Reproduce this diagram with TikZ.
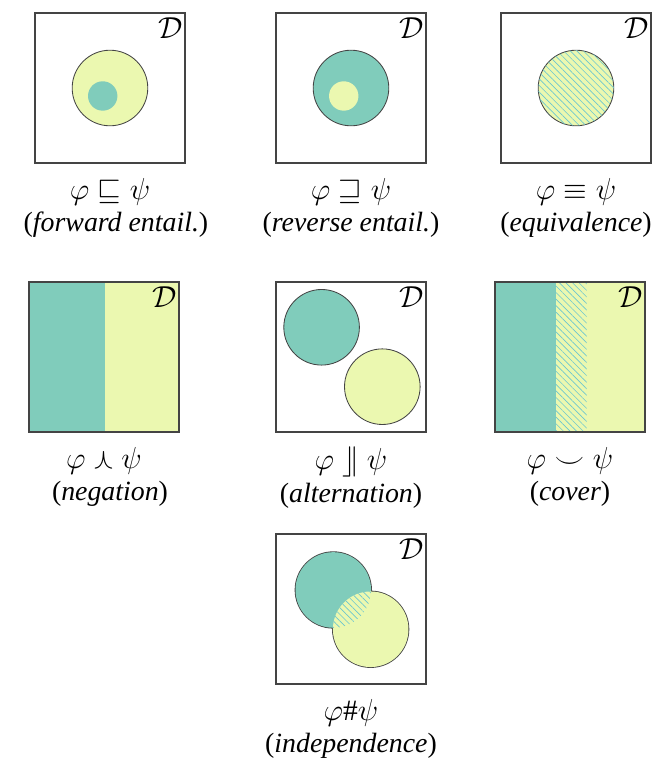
\documentclass[tikz,border=0pt]{standalone}
\usepackage{amssymb}
\usepackage{fontspec}
\setmainfont{Liberation Serif}
\usepackage{tikz}
\usepackage{xcolor}
\definecolor{vizPhi}{HTML}{80CCBB}
\definecolor{vizPsi}{HTML}{EBF8B0}
\definecolor{vizHatch}{HTML}{6CC6D0}
\definecolor{vizEdge}{HTML}{444444}
\usetikzlibrary{patterns.meta}
\newcommand{\relbig}[1]{{\fontsize{14}{16}\selectfont$#1$}}

\begin{document}
\begin{tikzpicture}[
  dombox/.style={draw=vizEdge, line width=0.6pt},
  setedge/.style={draw=vizEdge, line width=0.4pt},
  hatched/.style={pattern={Lines[angle=-45, distance=2.2pt, line width=0.3pt]}, pattern color=vizHatch},
  dlabel/.style={anchor=north east, inner xsep=1pt, inner ysep=2.2pt, font=\fontsize{14.4}{16}\selectfont},
  capbox/.style={anchor=north, align=center, inner sep=0pt, font=\fontsize{13.2}{15.6}\selectfont}]
  \useasboundingbox (0cm,0cm) rectangle (10.95cm,-12.667cm);

  \filldraw[fill=vizPsi, setedge] (1.833cm,-1.467cm) circle (0.63cm);
  \fill[vizPhi] (1.712cm,-1.6cm) circle (0.245cm);
  \draw[dombox] (0.583cm,-0.217cm) rectangle (3.083cm,-2.717cm);
  \node[dlabel] (dFwd) at (3.083cm,-0.217cm) {$\mathcal{D}$};
  \node[capbox] (capFwd) at (1.833cm,-2.96cm) {\relbig{\varphi \sqsubseteq \psi}\\\hspace*{0.2cm}(\textit{forward entail.})};

  \filldraw[fill=vizPhi, setedge] (5.85cm,-1.467cm) circle (0.63cm);
  \fill[vizPsi] (5.729cm,-1.6cm) circle (0.245cm);
  \draw[dombox] (4.6cm,-0.217cm) rectangle (7.1cm,-2.717cm);
  \node[dlabel] (dRev) at (7.1cm,-0.217cm) {$\mathcal{D}$};
  \node[capbox] (capRev) at (5.85cm,-2.96cm) {\relbig{\varphi \sqsupseteq \psi}\\(\textit{reverse entail.})};

  \filldraw[fill=vizPsi, setedge] (9.6cm,-1.467cm) circle (0.63cm);
  \fill[hatched] (9.6cm,-1.467cm) circle (0.63cm);
  \draw[dombox] (8.35cm,-0.217cm) rectangle (10.85cm,-2.717cm);
  \node[dlabel] (dEqv) at (10.85cm,-0.217cm) {$\mathcal{D}$};
  \node[capbox] (capEqv) at (9.6cm,-2.96cm) {\relbig{\varphi \equiv \psi}\\(\textit{equivalence})};

  \fill[vizPhi] (0.483cm,-4.7cm) rectangle (1.75cm,-7.2cm);
  \fill[vizPsi] (1.75cm,-4.7cm) rectangle (2.983cm,-7.2cm);
  \draw[dombox] (0.483cm,-4.7cm) rectangle (2.983cm,-7.2cm);
  \node[dlabel] (dNeg) at (2.983cm,-4.7cm) {$\mathcal{D}$};
  \node[capbox] (capNeg) at (1.733cm,-7.443cm) {\relbig{\varphi \curlywedge \psi}\\\hspace*{0.2cm}(\textit{negation})};

  \filldraw[fill=vizPhi, setedge] (5.36cm,-5.455cm) circle (0.63cm);
  \filldraw[fill=vizPsi, setedge] (6.372cm,-6.445cm) circle (0.63cm);
  \draw[dombox] (4.6cm,-4.7cm) rectangle (7.1cm,-7.2cm);
  \node[dlabel] (dAlt) at (7.1cm,-4.7cm) {$\mathcal{D}$};
  \node[capbox] (capAlt) at (5.85cm,-7.443cm) {\relbig{\varphi \mathrel{\rfloor\mkern-8.5mu\mid} \psi}\\(\textit{alternation})};

  \fill[vizPhi] (8.25cm,-4.7cm) rectangle (9.262cm,-7.2cm);
  \fill[vizPsi] (9.262cm,-4.7cm) rectangle (10.75cm,-7.2cm);
  \fill[hatched] (9.262cm,-4.7cm) rectangle (9.778cm,-7.2cm);
  \draw[dombox] (8.25cm,-4.7cm) rectangle (10.75cm,-7.2cm);
  \node[dlabel] (dCov) at (10.75cm,-4.7cm) {$\mathcal{D}$};
  \node[capbox] (capCov) at (9.5cm,-7.443cm) {\relbig{\varphi \smile \psi}\\(\textit{cover})};

  \draw[setedge, line width=0.8pt] (5.555cm,-9.833cm) circle (0.63cm);
  \draw[setedge, line width=0.8pt] (6.178cm,-10.488cm) circle (0.63cm);
  \fill[vizPhi] (5.555cm,-9.833cm) circle (0.63cm);
  \fill[vizPsi] (6.178cm,-10.488cm) circle (0.63cm);
  \begin{scope}
    \clip (5.555cm,-9.833cm) circle (0.63cm);
    \fill[hatched] (6.178cm,-10.488cm) circle (0.63cm);
  \end{scope}
  \draw[dombox] (4.6cm,-8.9cm) rectangle (7.1cm,-11.4cm);
  \node[dlabel] (dInd) at (7.1cm,-8.9cm) {$\mathcal{D}$};
  \node[capbox] (capInd) at (5.85cm,-11.643cm) {\relbig{\varphi \# \psi}\\(\textit{independence})};
\end{tikzpicture}
\end{document}
